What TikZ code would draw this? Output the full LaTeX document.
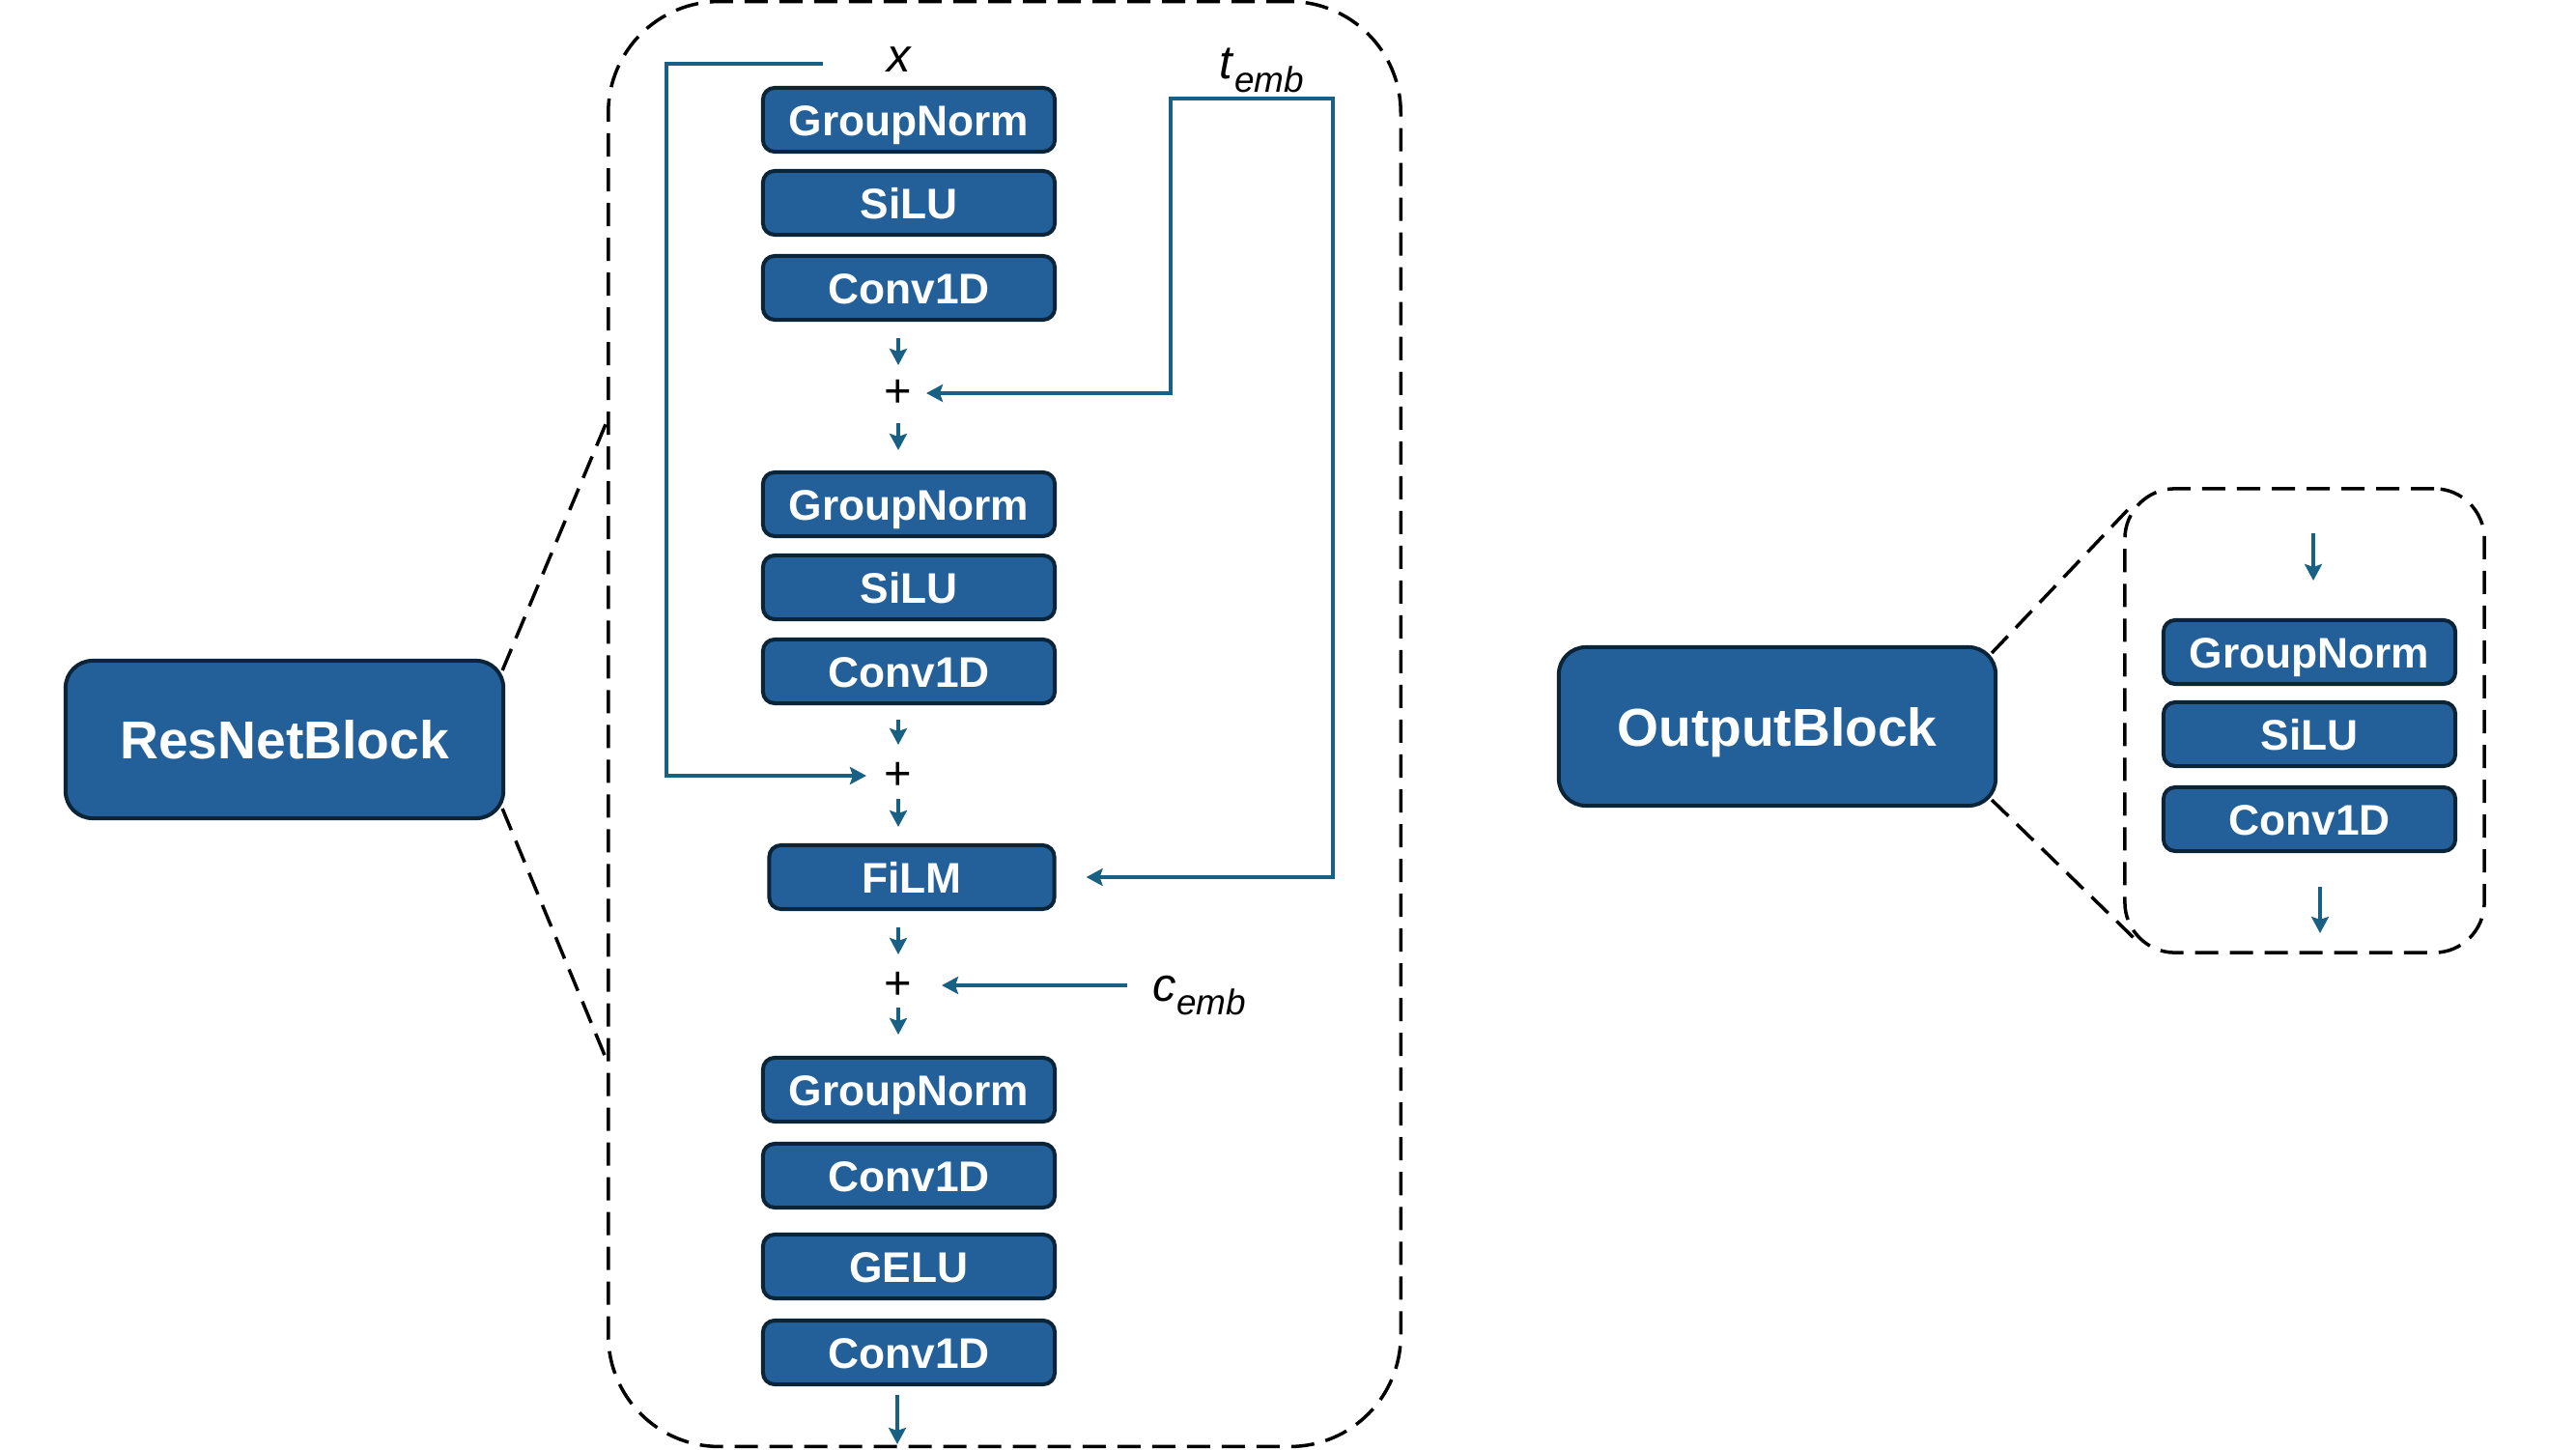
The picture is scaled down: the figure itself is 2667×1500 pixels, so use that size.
\documentclass[tikz,border=0pt]{standalone}
\usepackage{fontspec}
\setmainfont{Liberation Sans}
\usetikzlibrary{arrows.meta}
\definecolor{boxfill}{RGB}{35,96,154}
\definecolor{boxline}{RGB}{12,36,56}
\definecolor{arrowc}{RGB}{25,97,132}
\begin{document}
\begin{tikzpicture}[x=0.01cm,y=-0.01cm,
 blk/.style={draw=boxline, line width=0.4mm, fill=boxfill, rounded corners=1.2mm, minimum width=30.2mm, minimum height=6.6mm, inner sep=0pt, text height=9.2pt, text depth=0pt, text=white, font=\fontsize{12.6}{14}\selectfont\bfseries},
 big/.style={blk, rounded corners=2.8mm, text height=11.6pt, font=\fontsize{15.7}{18}\selectfont\bfseries},
 arr/.style={draw=arrowc, line width=0.33mm, -{Stealth[length=1.7mm,width=1.8mm,inset=0.3mm]}},
 dsh/.style={draw=black, line width=0.35mm, dash pattern=on 2.4mm off 1.2mm},
 lab/.style={inner sep=0pt, font=\fontsize{13.9}{16}\selectfont},
 plus/.style={inner sep=0pt, font=\fontsize{13.9}{16}\selectfont}
]
\useasboundingbox (0,0) rectangle (2667,1500);

% zoom frames
\node[dsh, rounded corners=11.5mm, minimum width=82mm, minimum height=149.5mm, inner sep=0pt] (rbox) at (1040,749.5) {};
\node[dsh, rounded corners=5.2mm, minimum width=37.2mm, minimum height=48mm, inner sep=0pt] (obox) at (2386,746) {};

% ResNet block internals
\node[blk] (gn1) at (941,124) {GroupNorm};
\node[blk] (silu1) at (941,210) {SiLU};
\node[blk] (conv1) at (941,298) {Conv1D};
\node[plus] (p1) at (930,407) {+};
\node[blk] (gn2) at (941,522) {GroupNorm};
\node[blk] (silu2) at (941,608) {SiLU};
\node[blk] (conv2) at (941,695) {Conv1D};
\node[plus] (p2) at (930,803) {+};
\node[blk, minimum width=29.5mm] (film) at (944,908) {FiLM};
\node[plus] (p3) at (930,1020) {+};
\node[blk] (gn3) at (941,1128) {GroupNorm};
\node[blk] (conv3) at (941,1217) {Conv1D};
\node[blk] (gelu) at (941,1311) {GELU};
\node[blk] (conv4) at (941,1400) {Conv1D};
\coordinate (rout) at (929,1495);

\draw[arr, shorten <=1.7mm, shorten >=2.9mm] (conv1.south -| p1.center) -- (p1.center);
\draw[arr, shorten <=3.1mm, shorten >=2.1mm] (p1.center) -- (gn2.north -| p1.center);
\draw[arr, shorten <=1.5mm, shorten >=3.2mm] (conv2.south -| p2.center) -- (p2.center);
\draw[arr, shorten <=2.4mm, shorten >=1.7mm] (p2.center) -- (film.north -| p2.center);
\draw[arr, shorten <=1.7mm, shorten >=3.2mm] (film.south -| p3.center) -- (p3.center);
\draw[arr, shorten <=2.3mm, shorten >=2.2mm] (p3.center) -- (gn3.north -| p3.center);
\draw[arr, shorten <=0.9mm] (conv4.south -| rout) -- (rout);

% input x and skip connection
\node[lab, anchor=base] (xlab) at (931,75) {\textit{x}};
\coordinate (xin) at (852,66);
\draw[arr, shorten >=3.3mm] (xin) -- (690,66) |- (p2.center);

% time embedding
\node[lab, anchor=base west] (temb) at (1262,82) {\textit{t}\raisebox{-1.3mm}{\fontsize{10.5}{12}\selectfont\textit{emb}}};
\coordinate (tj) at (1296,102);
\draw[arr, shorten >=2.9mm] (tj) -- (1212,102) |- (p1.center);
\draw[arr, shorten >=3.1mm] (tj) -- (1380,102) |- (film.east);

% condition embedding
\node[lab, anchor=base west] (cemb) at (1193,1036) {\textit{c}\raisebox{-1.4mm}{\fontsize{10.5}{12}\selectfont\textit{emb}}};
\coordinate (cin) at (1167,1020);
\draw[arr, shorten >=4.5mm] (cin) -- (cin -| p3.center);

% ResNetBlock
\node[big, minimum width=45.3mm, minimum height=16.3mm] (res) at (294.5,765.5) {ResNetBlock};
\draw[dsh] ([shift={(-0.3mm,-1.2mm)}]res.north east) -- ([yshift=31.25mm]rbox.west);
\draw[dsh] ([shift={(-0.3mm,1.2mm)}]res.south east) -- ([yshift=-34.75mm]rbox.west);

% OutputBlock
\node[big, minimum width=45.2mm, minimum height=16.4mm] (outb) at (1840,752) {OutputBlock};
\draw[dsh] ([shift={(-0.6mm,-0.8mm)}]outb.north east) -- ([shift={(1.2mm,-1.6mm)}]obox.north west);
\draw[dsh] ([shift={(-0.6mm,0.8mm)}]outb.south east) -- ([shift={(1.2mm,1.6mm)}]obox.south west);

\node[blk] (ogn) at (2391,675) {GroupNorm};
\node[blk] (osilu) at (2391,760) {SiLU};
\node[blk] (oconv) at (2391,848) {Conv1D};
\coordinate (oin) at (2395,552);
\coordinate (oout) at (2402,966);
\draw[arr, shorten >=3.9mm] (oin) -- (oin |- ogn.north);
\draw[arr, shorten <=3.5mm] (oconv.south -| oout) -- (oout);
\end{tikzpicture}
\end{document}
